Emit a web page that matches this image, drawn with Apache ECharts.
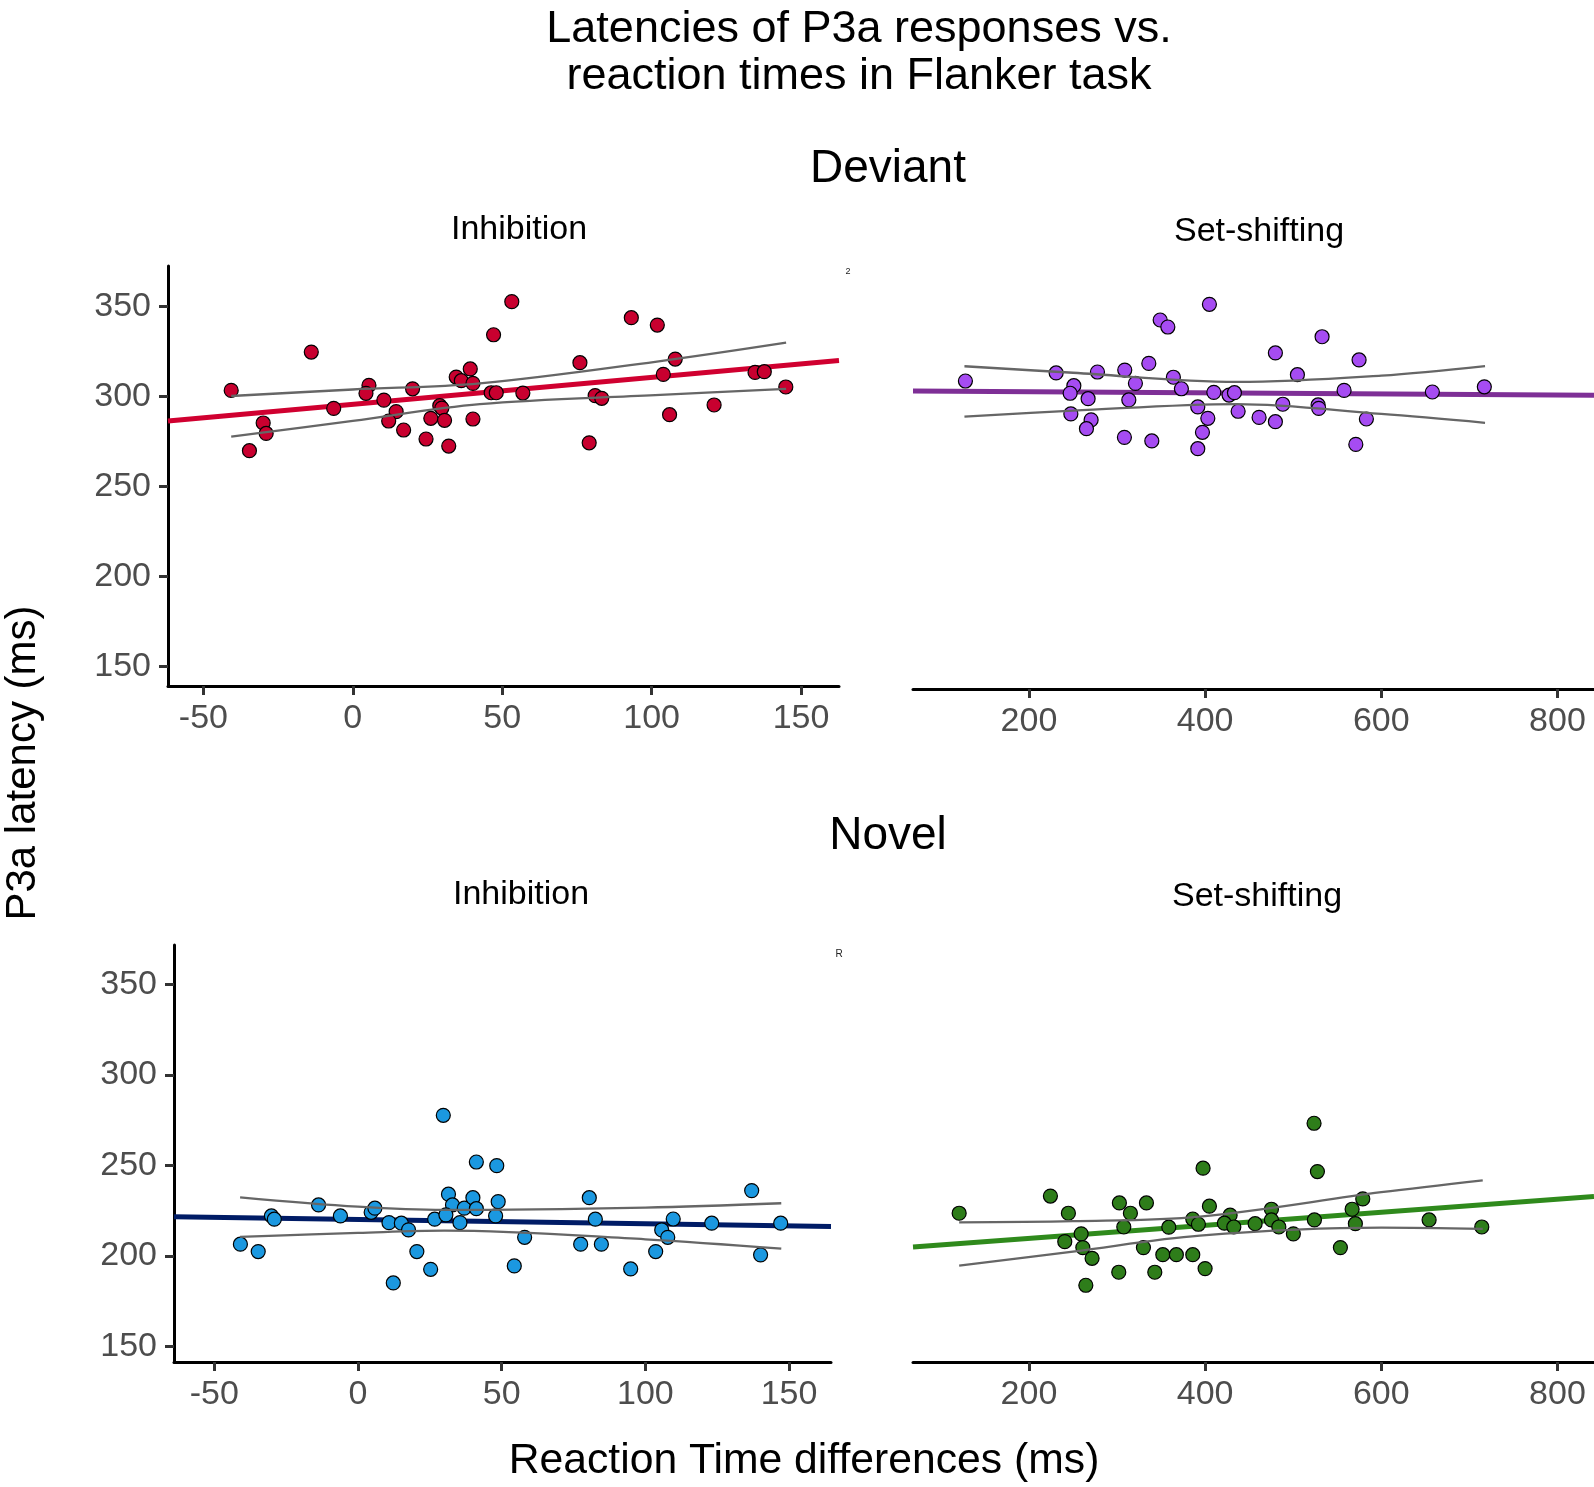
<!DOCTYPE html>
<html><head><meta charset="utf-8">
<script src="https://cdn.jsdelivr.net/npm/echarts@6/dist/echarts.min.js"></script>
<style>html,body{margin:0;padding:0;background:#fff}#c{width:1594px;height:1487px}</style>
</head><body><div id="c"></div>
<script>
// ---- Data ----
const devInhPoints = [[-40.7,303.4],[-13.9,324.7],[-34.6,269.9],[-30.0,285.3],[-29.0,279.5],[-6.4,293.4],[5.4,306.2],[4.4,301.8],[10.4,298],[14.5,291.6],[12.0,286.4],[17.0,281.4],[20.0,304.3],[24.5,276.4],[26.1,287.9],[29.1,294.9],[29.8,293.6],[30.7,286.8],[32.1,272.5],[34.6,310.8],[36.3,308.8],[39.3,315.3],[40.2,307.3],[40.2,287.5],[47.1,334.3],[46.3,302.1],[48.0,302.1],[53.2,352.7],[56.9,301.9],[76.0,318.8],[79.1,274.3],[81.1,300.5],[83.3,299],[93.2,343.8],[101.9,339.7],[103.9,312.3],[106.0,289.9],[107.9,320.8],[120.9,295.3],[134.6,313.4],[137.7,313.8],[144.9,305.3]];
const devInhFit = [[-61.85,286.4],[162.7,320.0]];
const devInhUpper = [[-40.7,300.3],[0,303.9],[42.5,307.3],[101.2,319.3],[145.0,329.9]];
const devInhLower = [[-40.7,277.7],[0,286.5],[42.5,295.8],[101.2,300.8],[145.0,304.3]];

const devSetPoints = [[127.9,308.6],[230.9,313.1],[251,306],[246.8,301.8],[267.2,298.8],[247.6,290.3],[270.6,287],[265.3,282.1],[277.8,313.6],[308.8,314.7],[320.9,307.3],[313.4,298.1],[308.4,277.3],[336.1,318.4],[339.5,275.3],[349,342.5],[357.7,338.6],[364,310.7],[373.1,304.3],[391.7,294.2],[403.1,287.9],[397,280.1],[391.7,271],[404.9,351.2],[409.9,302.3],[427.2,300.8],[433.3,302.1],[437.5,291.8],[461.3,288.4],[479.8,286],[479.8,324.2],[488.2,295.7],[504.8,312.1],[528.3,295.3],[529,293.4],[532.8,333.2],[557.8,303.4],[571.1,273.4],[574.8,320.3],[583.1,287.5],[658,302.5],[717,305.4]];
const devSetFit = [[68.4,303.1],[841.5,300.7]];
const devSetUpper = [[126.8,316.8],[250,313.2],[436,308.1],[600,311.6],[717.8,316.9]];
const devSetLower = [[126.8,288.8],[250,292.1],[436,295.8],[600,290.3],[717.8,285.4]];

const novInhPoints = [[-40.9,206.5],[-34.7,202.4],[-30.1,222.1],[-29.1,220.3],[-13.7,228.2],[-6.1,222.1],[4.6,224.1],[5.9,226.4],[10.8,218.4],[15.1,218.1],[17.6,214.4],[20.5,202.4],[12.3,185.1],[25.3,192.6],[26.7,220.3],[29.7,277.7],[31.5,234.1],[32.9,228.2],[30.6,222.7],[35.5,218.4],[37,226.4],[40,232.2],[41.2,226.1],[41.2,251.9],[48.3,249.9],[48.8,230],[47.9,222.1],[58,210.3],[54.4,194.5],[77.5,206.5],[80.5,232.2],[82.6,220.3],[84.7,206.5],[94.9,192.8],[103.6,202.4],[105.7,214.4],[107.8,210.3],[109.7,220.4],[123.1,218.1],[137,236.1],[140.1,200.6],[147.1,218.1]];
const novInhFit = [[-64.0,221.7],[164.6,216.2]];
const novInhUpper = [[-41,232.4],[0,227.2],[30,225.4],[100,226.7],[147.3,229.1]];
const novInhLower = [[-41,210.5],[0,212.7],[30,214],[100,209.2],[147.3,204]];

const novSetPoints = [[120.8,223.6],[224.4,233.1],[244.8,223.6],[259.3,212.2],[240.7,207.9],[261.2,204.6],[271.7,198.7],[264.6,183.8],[302.7,229.3],[315.2,223.6],[307.7,216],[302,191],[333.4,229.3],[330,204.6],[342.9,191],[352,200.7],[358.8,215.9],[367.4,200.7],[386,220.4],[386,200.7],[392.4,217.5],[397.7,248.5],[404.9,227.5],[400,193],[428.4,222.5],[421.9,218.1],[432.6,216],[456.8,217.8],[475.3,225.8],[475.3,219.9],[483.7,216],[500.2,212.2],[523.7,273.3],[527.5,246.6],[524.1,219.9],[553.6,204.6],[566.9,225.8],[570.6,217.8],[579,231.5],[654.3,219.9],[714.1,216]];
const novSetFit = [[68.4,204.9],[841.5,232.9]];
const novSetUpper = [[120.8,218.6],[250,219.2],[394,221.7],[600,235.2],[715.2,241.8]];
const novSetLower = [[120.8,194.6],[250,202.4],[394,211.2],[600,215.6],[715.2,214.9]];

const yTicks = [150,200,250,300,350];
const xTicksInh = [-50,0,50,100,150];
const xTicksSet = [200,400,600,800];

// ---- Chart ----
const FONT = '"Liberation Sans", Arial, Helvetica, sans-serif';
const chart = echarts.init(document.getElementById('c'), null, {renderer:'canvas'});

function xAxisDef(gi, min, max, ticks){
  return {type:'value', gridIndex:gi, min:min, max:max,
    axisLine:{show:true, onZero:false, lineStyle:{color:'#000', width:3}},
    axisTick:{show:true, customValues:ticks, length:9, lineStyle:{color:'#333', width:3}},
    axisLabel:{customValues:ticks, fontSize:34, fontFamily:FONT, color:'#4d4d4d', margin:16},
    splitLine:{show:false}};
}
function yAxisDef(gi, min, max, show){
  return {type:'value', gridIndex:gi, min:min, max:max, show:show,
    axisLine:{show:true, onZero:false, lineStyle:{color:'#000', width:3}},
    axisTick:{show:true, customValues:yTicks, length:9, lineStyle:{color:'#333', width:3}},
    axisLabel:{customValues:yTicks, fontSize:34, fontFamily:FONT, color:'#4d4d4d', margin:17},
    splitLine:{show:false}};
}
function panelSeries(gi, pts, fit, up, lo, ptColor, lineColor){
  return [
    {type:'line', xAxisIndex:gi, yAxisIndex:gi, data:fit, showSymbol:false, symbol:'none',
      lineStyle:{color:lineColor, width:5}, z:2, silent:true, animation:false},
    {type:'scatter', xAxisIndex:gi, yAxisIndex:gi, data:pts, symbolSize:14,
      itemStyle:{color:ptColor, borderColor:'#000', borderWidth:1.2, opacity:1}, z:3, animation:false},
    {type:'line', xAxisIndex:gi, yAxisIndex:gi, data:up, showSymbol:false, symbol:'none', smooth:0.35,
      lineStyle:{color:'#666', width:2.3}, z:4, silent:true, animation:false},
    {type:'line', xAxisIndex:gi, yAxisIndex:gi, data:lo, showSymbol:false, symbol:'none', smooth:0.35,
      lineStyle:{color:'#666', width:2.3}, z:4, silent:true, animation:false}
  ];
}
function txt(x, y, text, size, extra){
  return Object.assign({type:'text', x:x, y:y, silent:true,
    style:{text:text, fontSize:size, fontFamily:FONT, fill:'#000', align:'center', verticalAlign:'middle'}}, extra||{});
}

const option = {
  backgroundColor:'#fff',
  animation:false,
  grid:[
    {left:168, top:266, width:671, height:420},
    {left:913, top:266, width:681, height:423},
    {left:174, top:945, width:657, height:417},
    {left:913, top:945, width:681, height:417}
  ],
  xAxis:[
    xAxisDef(0, -61.85, 162.7, xTicksInh),
    xAxisDef(1, 68.4, 841.5, xTicksSet),
    xAxisDef(2, -64.0, 164.6, xTicksInh),
    xAxisDef(3, 68.4, 841.5, xTicksSet)
  ],
  yAxis:[
    yAxisDef(0, 139.2, 372.5, true),
    yAxisDef(1, 137.5, 372.5, false),
    yAxisDef(2, 141.4, 371.8, true),
    yAxisDef(3, 141.4, 371.8, false)
  ],
  series:[].concat(
    panelSeries(0, devInhPoints, devInhFit, devInhUpper, devInhLower, '#c8002f', '#d00030'),
    panelSeries(1, devSetPoints, devSetFit, devSetUpper, devSetLower, '#a64cf2', '#7e2f96'),
    panelSeries(2, novInhPoints, novInhFit, novInhUpper, novInhLower, '#1b98e0', '#001c66'),
    panelSeries(3, novSetPoints, novSetFit, novSetUpper, novSetLower, '#2e7d1a', '#2f8a1c')
  ),
  graphic:[
    txt(859, 30, 'Latencies of P3a responses vs.', 45),
    txt(859, 77, 'reaction times in Flanker task', 45),
    txt(888, 169, 'Deviant', 46),
    txt(888, 836, 'Novel', 46),
    txt(519, 230, 'Inhibition', 34),
    txt(1259, 232, 'Set-shifting', 34),
    txt(521, 895, 'Inhibition', 34),
    txt(1257, 897, 'Set-shifting', 34),
    txt(804, 1461, 'Reaction Time differences (ms)', 42.7),
    txt(23, 763, 'P3a latency (ms)', 42, {rotation:Math.PI/2}),
    txt(848, 272, '2', 9, {style:{text:'2', fontSize:9, fontFamily:FONT, fill:'#222', align:'center', verticalAlign:'middle'}}),
    txt(839, 954, 'R', 10, {style:{text:'R', fontSize:10, fontFamily:FONT, fill:'#222', align:'center', verticalAlign:'middle'}})
  ]
};
chart.setOption(option);
</script>
</body></html>
